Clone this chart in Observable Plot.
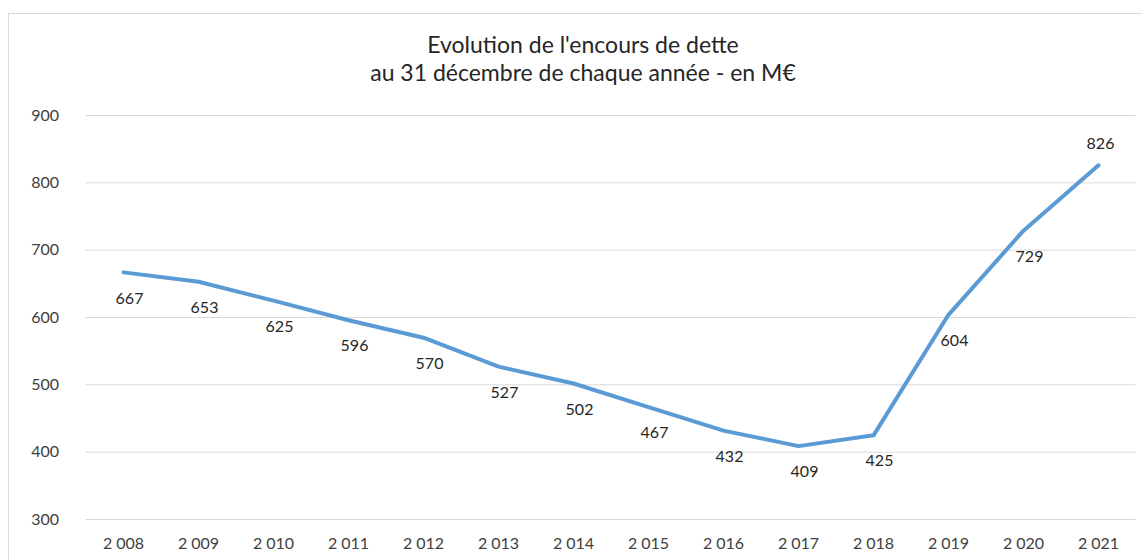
<!DOCTYPE html>
<html>
<head>
<meta charset="utf-8">
<script src="https://cdn.jsdelivr.net/npm/d3@7"></script>
<script src="https://cdn.jsdelivr.net/npm/@observablehq/plot@0.6"></script>
<style>
  html, body { margin: 0; padding: 0; background: #fff; }
  #wrap { position: relative; width: 1142px; height: 560px; overflow: hidden; font-family: Lato, "Open Sans", sans-serif; }
  #frame { position: absolute; left: 8px; top: 13px; width: 1140px; height: 600px; border: 1px solid #d9d9d9; box-sizing: border-box; }
  #title { position: absolute; left: 0; width: 1166px; top: 30px; text-align: center; font-size: 23px; line-height: 28px; color: #262626; }
  #chart { position: absolute; left: 0; top: 95px; }
</style>
</head>
<body>
<div id="wrap">
  <div id="frame"></div>
  <div id="title">Evolution de l'encours de dette<br>au 31 décembre de chaque année - en M€</div>
  <div id="chart"></div>
</div>
<script>
const years = [2008, 2009, 2010, 2011, 2012, 2013, 2014, 2015, 2016, 2017, 2018, 2019, 2020, 2021];
const debt = [667, 653, 625, 596, 570, 527, 502, 467, 432, 409, 425, 604, 729, 826];
const yTicks = [300, 400, 500, 600, 700, 800, 900];

const data = years.map((y, i) => ({year: y, value: debt[i]}));
const fmtYear = d => String(d).replace(/(\d)(\d{3})$/, "$1 $2");

const chart = Plot.plot({
  width: 1142,
  height: 465,
  marginLeft: 85.5,
  marginRight: 6.5,
  marginTop: 20,
  marginBottom: 41,
  style: {fontFamily: "Lato, 'Open Sans', sans-serif", fontSize: "16px", color: "#404040", background: "transparent"},
  x: {type: "point", domain: years, padding: 0.5, label: null},
  y: {domain: [300, 900], label: null},
  marks: [
    Plot.ruleY(yTicks, {stroke: "#d9d9d9", strokeWidth: 1}),
    Plot.axisX({tickSize: 0, tickPadding: 18, tickFormat: fmtYear, fill: "#404040", fontSize: 16}),
    Plot.axisY({ticks: yTicks, tickSize: 0, tickPadding: 27, fill: "#404040", fontSize: 16}),
    Plot.line(data, {x: "year", y: "value", stroke: "#5b9bd5", strokeWidth: 4, strokeLinejoin: "round", strokeLinecap: "round"}),
    Plot.text(data.filter((d, i) => i < data.length - 1), {x: "year", y: "value", text: d => String(d.value), dx: 6, dy: 26, fill: "#262626", fontSize: 16}),
    Plot.text(data.filter((d, i) => i === data.length - 1), {x: "year", y: "value", text: d => String(d.value), dx: 2, dy: -21, fill: "#262626", fontSize: 16})
  ]
});
document.getElementById("chart").appendChild(chart);
</script>
</body>
</html>
